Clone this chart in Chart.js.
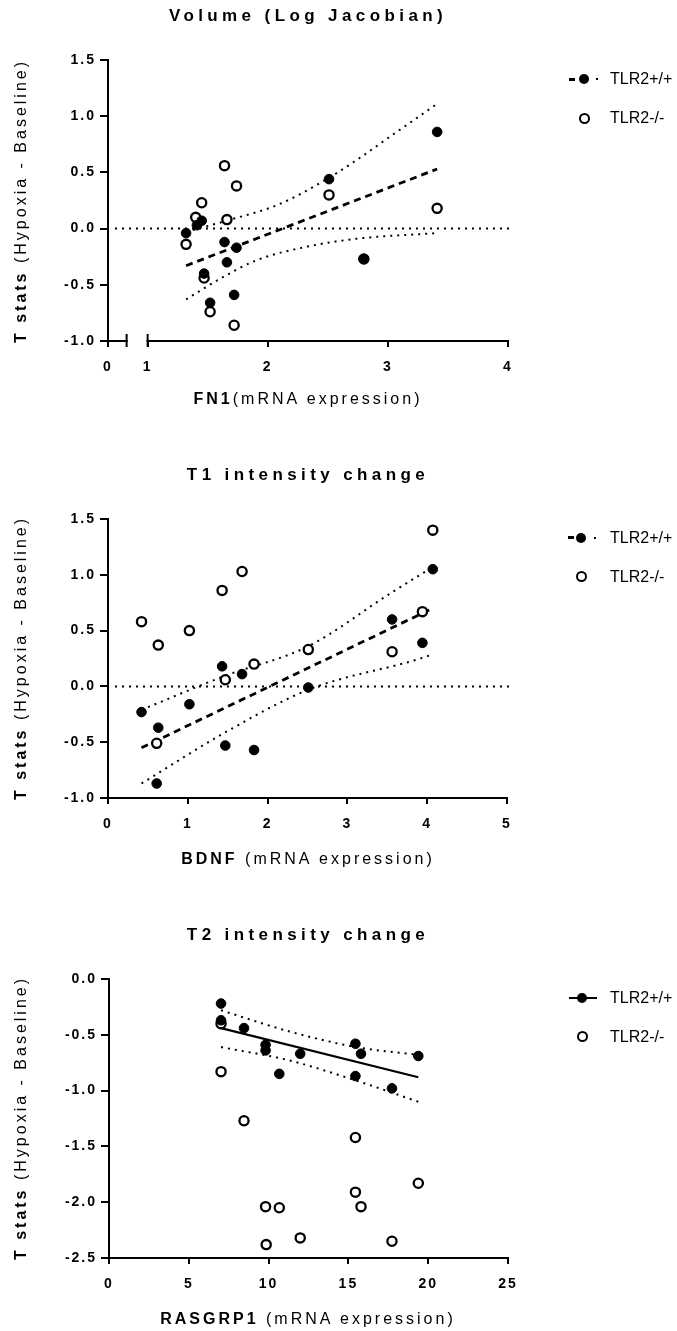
<!DOCTYPE html>
<html><head><meta charset="utf-8">
<script src="https://cdn.jsdelivr.net/npm/chart.js@4.4.0/dist/chart.umd.min.js"></script>
<style>
html,body{margin:0;padding:0;background:#fff;}
#wrap{position:relative;width:677px;height:1331px;overflow:hidden;font-family:"Liberation Sans",Arial,Helvetica,sans-serif;color:#000;}
canvas{position:absolute;left:0;}
.title{position:absolute;left:108px;width:400px;text-align:center;font-weight:bold;font-size:17px;letter-spacing:4.4px;white-space:nowrap;line-height:20px;height:20px;}
.xt{position:absolute;left:108px;width:400px;text-align:center;font-size:16px;letter-spacing:3px;white-space:nowrap;line-height:20px;height:20px;}
.yt{position:absolute;width:320px;height:20px;line-height:20px;text-align:center;font-size:16px;letter-spacing:3px;white-space:nowrap;transform:rotate(-90deg);transform-origin:50% 50%;}
.lt{position:absolute;left:610px;font-size:16px;line-height:18px;height:18px;white-space:nowrap;}
.dot{position:absolute;width:10px;height:10px;border-radius:50%;background:#000;}
.ring{position:absolute;width:7px;height:7px;border-radius:50%;border:2px solid #000;background:#fff;}
.bar{position:absolute;background:#000;}
</style>
</head><body>
<div id="wrap">
<canvas id="c1" width="677" height="440" style="top:0px"></canvas>
<canvas id="c2" width="677" height="450" style="top:450px"></canvas>
<canvas id="c3" width="677" height="426" style="top:905px"></canvas>

<div class="title" style="top:5.5px">Volume (Log Jacobian)</div>
<div class="title" style="top:464.5px">T1 intensity change</div>
<div class="title" style="top:924.5px">T2 intensity change</div>

<div class="xt" style="top:389px"><b>FN1</b>(mRNA expression)</div>
<div class="xt" style="top:849px"><b>BDNF</b> (mRNA expression)</div>
<div class="xt" style="top:1309px"><b>RASGRP1</b> (mRNA expression)</div>

<div class="yt" style="left:-139px;top:190.5px"><b>T stats</b> (Hypoxia - Baseline)</div>
<div class="yt" style="left:-139px;top:648.4px"><b>T stats</b> (Hypoxia - Baseline)</div>
<div class="yt" style="left:-139px;top:1108.4px"><b>T stats</b> (Hypoxia - Baseline)</div>

<!-- legend 1 -->
<div class="bar" style="left:569px;top:77.5px;width:6px;height:3px"></div>
<div class="dot" style="left:579px;top:74px"></div>
<div class="bar" style="left:595.5px;top:78px;width:2px;height:2px"></div>
<div class="lt" style="top:70px">TLR2+/+</div>
<div class="ring" style="left:578.5px;top:112.5px"></div>
<div class="lt" style="top:109px">TLR2-/-</div>
<!-- legend 2 -->
<div class="bar" style="left:568px;top:536.2px;width:6px;height:3px"></div>
<div class="dot" style="left:576px;top:532.7px"></div>
<div class="bar" style="left:594px;top:536.7px;width:2px;height:2px"></div>
<div class="lt" style="top:528.7px">TLR2+/+</div>
<div class="ring" style="left:575.5px;top:571.2px"></div>
<div class="lt" style="top:567.7px">TLR2-/-</div>
<!-- legend 3 -->
<div class="bar" style="left:569px;top:996.7px;width:28px;height:2.5px"></div>
<div class="dot" style="left:577px;top:992.7px"></div>
<div class="lt" style="top:988.7px">TLR2+/+</div>
<div class="ring" style="left:576.5px;top:1031.2px"></div>
<div class="lt" style="top:1027.7px">TLR2-/-</div>
</div>

<script>
// ---------- Chart 1: Volume (Log Jacobian) vs FN1 ----------
const fn1WtX = [1.32, 1.41, 1.45, 1.47, 1.52, 1.64, 1.66, 1.72, 1.74, 2.51, 2.80, 3.41];
const fn1WtY = [-0.04, 0.03, 0.07, -0.40, -0.66, -0.12, -0.30, -0.59, -0.17, 0.44, -0.27, 0.86];
const fn1KoX = [1.32, 1.40, 1.45, 1.47, 1.52, 1.64, 1.66, 1.72, 1.74, 2.51, 2.80, 3.41];
const fn1KoY = [-0.14, 0.10, 0.23, -0.44, -0.74, 0.56, 0.08, -0.86, 0.38, 0.30, -0.27, 0.18];
const fn1FitX = [1.32, 3.41];
const fn1FitY = [-0.33, 0.53];
const fn1UpX = [1.32, 1.69, 2.08, 2.46, 2.74, 3.02, 3.41];
const fn1UpY = [-0.03, 0.08, 0.21, 0.42, 0.61, 0.82, 1.11];
const fn1LoX = [1.32, 1.63, 1.91, 2.33, 2.74, 3.41];
const fn1LoY = [-0.63, -0.43, -0.28, -0.16, -0.09, -0.04];
const fn1XTicks = [0.67, 1, 2, 3, 4];
const fn1XTickLabels = ['0', '1', '2', '3', '4'];
const fn1AxisBreak = [0.825, 1];
const fn1YTicks = [-1.0, -0.5, 0.0, 0.5, 1.0, 1.5];
const fn1YTickLabels = ['-1.0', '-0.5', '0.0', '0.5', '1.0', '1.5'];

// ---------- Chart 2: T1 intensity change vs BDNF ----------
const bdnfWtX = [0.42, 0.63, 0.61, 1.02, 1.43, 1.47, 1.68, 1.83, 2.51, 3.56, 3.94, 4.07];
const bdnfWtY = [-0.23, -0.37, -0.87, -0.16, 0.18, -0.53, 0.11, -0.57, -0.01, 0.60, 0.39, 1.05];
const bdnfKoX = [0.42, 0.63, 0.61, 1.02, 1.43, 1.47, 1.68, 1.83, 2.51, 3.56, 3.94, 4.07];
const bdnfKoY = [0.58, 0.37, -0.51, 0.50, 0.86, 0.06, 1.03, 0.20, 0.33, 0.31, 0.67, 1.40];
const bdnfFitX = [0.42, 4.07];
const bdnfFitY = [-0.55, 0.70];
const bdnfUpX = [0.42, 1.45, 2.51, 3.53, 4.07];
const bdnfUpY = [-0.21, 0.09, 0.36, 0.83, 1.07];
const bdnfLoX = [0.42, 1.45, 2.51, 4.0, 4.07];
const bdnfLoY = [-0.87, -0.42, -0.03, 0.27, 0.29];
const bdnfXTicks = [0, 1, 2, 3, 4, 5];
const bdnfXTickLabels = ['0', '1', '2', '3', '4', '5'];
const bdnfYTicks = [-1.0, -0.5, 0.0, 0.5, 1.0, 1.5];
const bdnfYTickLabels = ['-1.0', '-0.5', '0.0', '0.5', '1.0', '1.5'];

// ---------- Chart 3: T2 intensity change vs RASGRP1 ----------
const rasWtX = [7.02, 7.02, 8.46, 9.81, 9.81, 10.67, 11.98, 15.44, 15.79, 15.44, 17.73, 19.38];
const rasWtY = [-0.22, -0.37, -0.44, -0.59, -0.64, -0.85, -0.67, -0.58, -0.67, -0.87, -0.98, -0.69];
const rasKoX = [7.02, 7.02, 8.46, 9.81, 10.67, 9.85, 11.98, 15.44, 15.44, 15.79, 17.73, 19.38];
const rasKoY = [-0.40, -0.83, -1.27, -2.04, -2.05, -2.38, -2.32, -1.42, -1.91, -2.04, -2.35, -1.83];
const rasFitX = [7.02, 19.38];
const rasFitY = [-0.44, -0.88];
const rasUpX = [7.02, 11.31, 15.48, 19.38];
const rasUpY = [-0.28, -0.47, -0.61, -0.68];
const rasLoX = [7.02, 11.31, 15.48, 19.38];
const rasLoY = [-0.61, -0.73, -0.91, -1.10];
const rasXTicks = [0, 5, 10, 15, 20, 25];
const rasXTickLabels = ['0', '5', '10', '15', '20', '25'];
const rasYTicks = [-2.5, -2.0, -1.5, -1.0, -0.5, 0.0];
const rasYTickLabels = ['-2.5', '-2.0', '-1.5', '-1.0', '-0.5', '0.0'];

function pts(xs, ys) { return xs.map((x, i) => ({ x: x, y: ys[i] })); }

const tickFont = { family: '"Liberation Sans", Arial, sans-serif', size: 14, weight: 'bold' };

const spacingPlugin = {
  id: 'spacing',
  beforeDraw(chart) { chart.ctx.letterSpacing = '2px'; },
  beforeDatasetsDraw(chart) {
    chart.ctx.letterSpacing = '0px';
    const o = chart.options.plugins.zeroLine;
    if (o && o.show) {
      const ctx = chart.ctx, x = chart.scales.x, y = chart.scales.y;
      const py = y.getPixelForValue(0);
      ctx.save();
      ctx.strokeStyle = '#000'; ctx.lineWidth = 2; ctx.setLineDash([2, 5]);
      ctx.beginPath(); ctx.moveTo(x.left + 7, py); ctx.lineTo(x.right + 2, py); ctx.stroke();
      ctx.restore();
    }
  },
  afterDraw(chart) {
    const o = chart.options.plugins.axisBreak;
    if (!o || !o.range) return;
    const ctx = chart.ctx, x = chart.scales.x, yb = chart.chartArea.bottom;
    const a = x.getPixelForValue(o.range[0]), b = x.getPixelForValue(o.range[1]);
    ctx.save();
    ctx.fillStyle = '#fff';
    ctx.fillRect(a + 1, yb - 2, b - a - 2, 4);
    ctx.strokeStyle = '#000'; ctx.lineWidth = 2; ctx.setLineDash([]);
    ctx.beginPath();
    ctx.moveTo(a, yb - 7); ctx.lineTo(a, yb + 6);
    ctx.moveTo(b, yb - 7); ctx.lineTo(b, yb + 6);
    ctx.stroke();
    ctx.restore();
  }
};

function makeChart(id, d) {
  const datasets = [
    { label: 'TLR2+/+', data: pts(d.wtX, d.wtY), showLine: false, pointRadius: 4.8, pointBorderWidth: 1,
      pointBackgroundColor: '#000', pointBorderColor: '#000', order: 0 },
    { label: 'TLR2-/-', data: pts(d.koX, d.koY), showLine: false, pointRadius: 4.6, pointBorderWidth: 2.3,
      pointBackgroundColor: '#fff', pointBorderColor: '#000', order: 1 },
    { label: 'fit', data: pts(d.fitX, d.fitY), showLine: true, pointRadius: 0, borderColor: '#000',
      borderWidth: d.solid ? 2.2 : 2.8, borderDash: d.solid ? [] : [7, 5], fill: false, order: 2 },
    { label: 'upper', data: pts(d.upX, d.upY), showLine: true, pointRadius: 0, borderColor: '#000',
      borderWidth: 2, borderDash: [2, 5], fill: false, cubicInterpolationMode: 'monotone', order: 3 },
    { label: 'lower', data: pts(d.loX, d.loY), showLine: true, pointRadius: 0, borderColor: '#000',
      borderWidth: 2, borderDash: [2, 5], fill: false, cubicInterpolationMode: 'monotone', order: 3 }
  ];
  return new Chart(document.getElementById(id), {
    type: 'scatter',
    data: { datasets: datasets },
    plugins: [spacingPlugin],
    options: {
      responsive: false, animation: false, devicePixelRatio: 1, events: [],
      layout: { padding: d.pad },
      plugins: { legend: { display: false }, tooltip: { enabled: false },
        zeroLine: { show: d.zero }, axisBreak: { range: d.brk } },
      scales: {
        x: {
          type: 'linear', min: d.xMin, max: d.xMax,
          afterFit(s) { s.height = 40; },
          afterBuildTicks(s) { s.ticks = d.xTicks.map(v => ({ value: v })); },
          ticks: { font: tickFont, color: '#000', padding: 12, maxRotation: 0, autoSkip: false,
            callback: (v, i) => d.xLabels[i] },
          grid: { drawOnChartArea: false, drawTicks: true, tickLength: 6, lineWidth: 2, color: '#000' },
          border: { display: true, color: '#000', width: 2 }
        },
        y: {
          type: 'linear', min: d.yMin, max: d.yMax,
          afterFit(s) { s.width = d.axisLeft; },
          afterBuildTicks(s) { s.ticks = d.yTicks.map(v => ({ value: v })); },
          ticks: { font: tickFont, color: '#000', padding: 4, autoSkip: false,
            callback: (v, i) => d.yLabels[i] },
          grid: { drawOnChartArea: false, drawTicks: true, tickLength: 8, lineWidth: 2, color: '#000' },
          border: { display: true, color: '#000', width: 2 }
        }
      }
    }
  });
}

makeChart('c1', {
  wtX: fn1WtX, wtY: fn1WtY, koX: fn1KoX, koY: fn1KoY, fitX: fn1FitX, fitY: fn1FitY,
  upX: fn1UpX, upY: fn1UpY, loX: fn1LoX, loY: fn1LoY,
  xMin: fn1XTicks[0], xMax: 4, xTicks: fn1XTicks, xLabels: fn1XTickLabels,
  yMin: -1, yMax: 1.5, yTicks: fn1YTicks, yLabels: fn1YTickLabels,
  axisLeft: 108, pad: { left: 0, top: 60, right: 169, bottom: 59 }, zero: true, brk: fn1AxisBreak
});
makeChart('c2', {
  wtX: bdnfWtX, wtY: bdnfWtY, koX: bdnfKoX, koY: bdnfKoY, fitX: bdnfFitX, fitY: bdnfFitY,
  upX: bdnfUpX, upY: bdnfUpY, loX: bdnfLoX, loY: bdnfLoY,
  xMin: 0, xMax: 5, xTicks: bdnfXTicks, xLabels: bdnfXTickLabels,
  yMin: -1, yMax: 1.5, yTicks: bdnfYTicks, yLabels: bdnfYTickLabels,
  axisLeft: 108, pad: { left: 0, top: 69, right: 170, bottom: 62 }, zero: true, brk: null
});
makeChart('c3', {
  wtX: rasWtX, wtY: rasWtY, koX: rasKoX, koY: rasKoY, fitX: rasFitX, fitY: rasFitY,
  upX: rasUpX, upY: rasUpY, loX: rasLoX, loY: rasLoY, solid: true,
  xMin: 0, xMax: 25, xTicks: rasXTicks, xLabels: rasXTickLabels,
  yMin: -2.5, yMax: 0, yTicks: rasYTicks, yLabels: rasYTickLabels,
  axisLeft: 109, pad: { left: 0, top: 74, right: 169, bottom: 33 }, zero: false, brk: null
});
</script>
</body></html>
